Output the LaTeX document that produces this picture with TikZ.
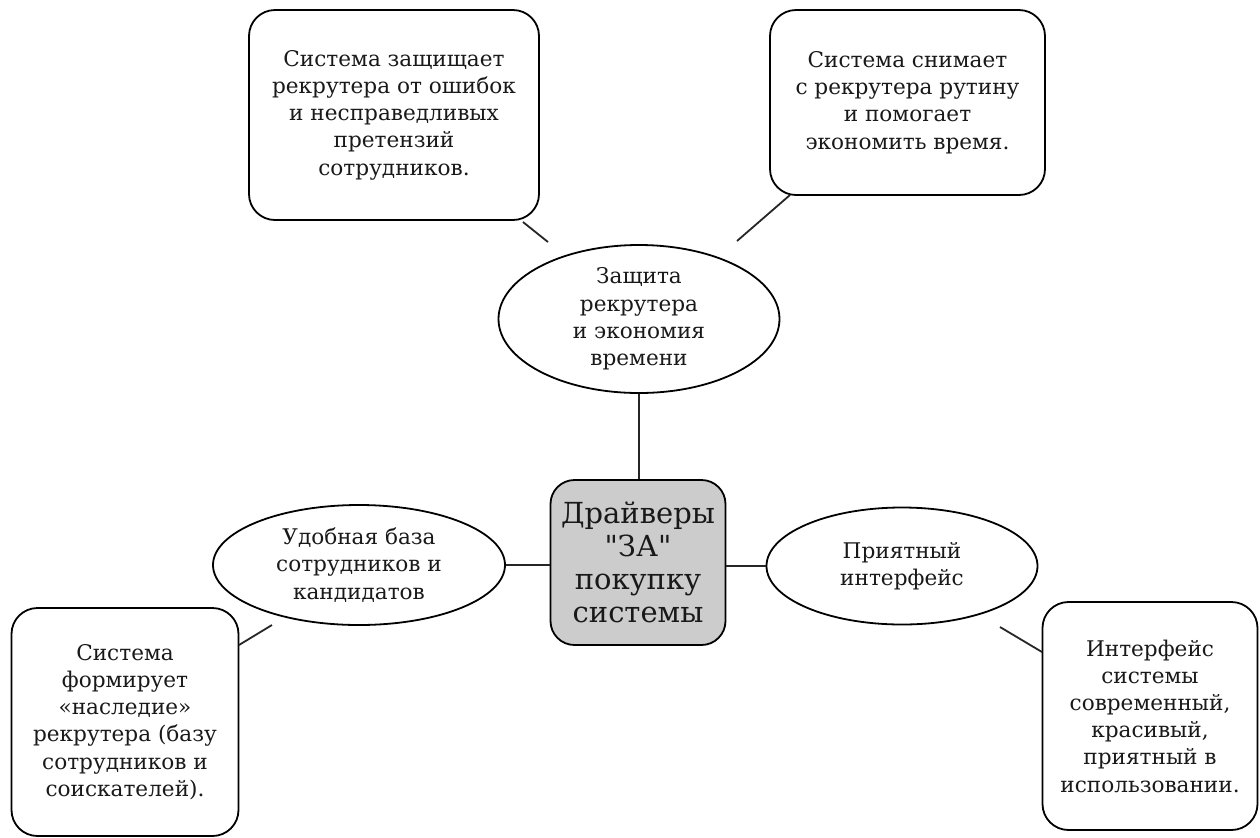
\documentclass[tikz,border=0pt]{standalone}
\usepackage{fontspec}
\setmainfont{DejaVu Serif}
\newfontfamily\hubfont{DejaVu Serif}
\usetikzlibrary{shapes.geometric}
\begin{document}
\begin{tikzpicture}[x=0.5pt,y=-0.5pt,
  every node/.style={align=center,text=black!90,inner sep=0pt},
  txt/.style={font=\fontsize{10.8}{13.6}\selectfont},
  card/.style={draw,line width=0.9pt,rounded corners=13pt,fill=white,txt},
  oval/.style={draw,line width=0.9pt,ellipse,fill=white,txt},
  hub/.style={draw,line width=0.9pt,rounded corners=12pt,fill=black!20,font=\hubfont\fontsize{14.5}{16.6}\selectfont},
  link/.style={line width=0.9pt,black!85}]
\useasboundingbox (0,0) rectangle (1260,837);
\fill[white] (0,0) rectangle (1260,837);

\node[card,minimum width=145pt,minimum height=105pt] (tl) at (394,115)
  {Система защищает\\рекрутера от ошибок\\и несправедливых\\претензий\\сотрудников.};
\node[card,minimum width=137.5pt,minimum height=92.5pt] (tr) at (907.5,102.5)
  {Система снимает\\с рекрутера рутину\\и помогает\\экономить время.};
\node[oval,minimum width=140.5pt,minimum height=74pt] (top) at (639,319)
  {Защита\\рекрутера\\и экономия\\времени};
\node[hub,minimum width=87.5pt,minimum height=82.5pt] (hub) at (638,562.5)
  {Драйверы\\"ЗА"\\покупку\\системы};
\node[oval,minimum width=146pt,minimum height=60pt] (left) at (359,565)
  {Удобная база\\сотрудников и\\кандидатов};
\node[oval,minimum width=135.5pt,minimum height=58.5pt] (right) at (902,566)
  {Приятный\\интерфейс};
\node[card,minimum width=113.5pt,minimum height=114pt] (bl) at (125,722)
  {Система\\формирует\\«наследие»\\рекрутера (базу\\сотрудников и\\соискателей).};
\node[card,minimum width=107.5pt,minimum height=114pt] (br) at (1150,716)
  {Интерфейс\\системы\\современный,\\красивый,\\приятный в\\использовании.};

\draw[link] (top.south) -- (top.south |- hub.north);
\draw[link] (left.east) -- (left.east -| hub.west);
\draw[link] (right.west) -- (right.west -| hub.east);

\coordinate (a1) at (523,222); \coordinate (a2) at (548,242);
\coordinate (b1) at (790,195); \coordinate (b2) at (737,241);
\coordinate (c1) at (239,645); \coordinate (c2) at (272,625);
\coordinate (d1) at (1000,627); \coordinate (d2) at (1042,652);
\draw[link] (a1) -- (a2);
\draw[link] (b1) -- (b2);
\draw[link] (c1) -- (c2);
\draw[link] (d1) -- (d2);
\end{tikzpicture}
\end{document}
